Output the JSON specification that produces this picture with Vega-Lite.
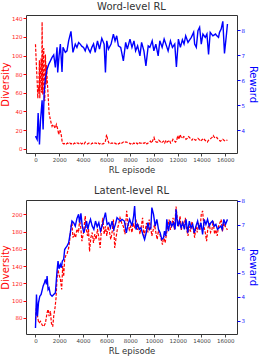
{
"$schema": "https://vega.github.io/schema/vega-lite/v6.json",
"padding": {"left": 0, "top": 1, "right": 2, "bottom": 2},
"config": {
  "view": {"stroke": "#333333", "strokeWidth": 1},
  "font": "DejaVu Sans",
  "axis": {"grid": false, "domain": false, "labelFont": "DejaVu Sans", "titleFont": "DejaVu Sans", "titleFontWeight": "normal", "labelFontSize": 5.5, "tickSize": 3, "labelPadding": 1},
  "axisX": {"labelOverlap": false, "labelFlush": false, "format": "d", "labelColor": "#444444", "tickColor": "#444444", "titleColor": "#333333", "titleFontSize": 8.5, "titlePadding": 3},
  "title": {"font": "DejaVu Sans", "fontWeight": "normal", "fontSize": 10, "color": "#333333", "frame": "group", "offset": 3}
},
"datasets": {
"wd": [{"e":0,"v":112},{"e":84,"v":87},{"e":150,"v":70},{"e":196,"v":54},{"e":250,"v":66},{"e":280,"v":62},{"e":330,"v":95},{"e":364,"v":54},{"e":420,"v":80},{"e":476,"v":97},{"e":520,"v":60},{"e":559,"v":136},{"e":615,"v":58},{"e":660,"v":100},{"e":699,"v":108},{"e":740,"v":60},{"e":783,"v":51},{"e":839,"v":101},{"e":895,"v":69},{"e":940,"v":90},{"e":979,"v":76},{"e":1063,"v":58},{"e":1147,"v":38},{"e":1259,"v":31},{"e":1330,"v":27},{"e":1399,"v":24},{"e":1470,"v":26},{"e":1538,"v":25},{"e":1610,"v":23},{"e":1678,"v":22},{"e":1762,"v":26},{"e":1874,"v":21},{"e":1958,"v":15},{"e":2040,"v":20},{"e":2098,"v":19},{"e":2182,"v":14},{"e":2266,"v":6},{"e":2400,"v":5},{"e":2500,"v":6},{"e":2600,"v":5},{"e":2700,"v":6},{"e":2800,"v":5},{"e":2900,"v":6},{"e":3000,"v":5},{"e":3100,"v":6},{"e":3200,"v":5},{"e":3300,"v":6},{"e":3400,"v":5},{"e":3500,"v":6},{"e":3600,"v":6},{"e":3700,"v":5},{"e":3800,"v":6},{"e":3900,"v":5},{"e":4000,"v":6},{"e":4100,"v":5},{"e":4200,"v":7},{"e":4300,"v":6},{"e":4400,"v":5},{"e":4500,"v":6},{"e":4600,"v":6},{"e":4700,"v":5},{"e":4800,"v":6},{"e":4900,"v":5},{"e":5000,"v":6},{"e":5100,"v":6},{"e":5200,"v":5},{"e":5300,"v":6},{"e":5400,"v":5},{"e":5500,"v":6},{"e":5600,"v":5},{"e":5700,"v":5},{"e":5800,"v":6},{"e":5900,"v":8},{"e":6000,"v":15},{"e":6100,"v":9},{"e":6200,"v":6},{"e":6300,"v":5},{"e":6400,"v":6},{"e":6500,"v":6},{"e":6600,"v":5},{"e":6700,"v":6},{"e":6800,"v":5},{"e":6900,"v":6},{"e":7000,"v":5},{"e":7100,"v":6},{"e":7200,"v":5},{"e":7300,"v":6},{"e":7400,"v":7},{"e":7500,"v":8},{"e":7600,"v":7},{"e":7700,"v":7},{"e":7800,"v":6},{"e":7900,"v":6},{"e":8000,"v":5},{"e":8100,"v":6},{"e":8200,"v":5},{"e":8300,"v":6},{"e":8400,"v":5},{"e":8500,"v":6},{"e":8600,"v":5},{"e":8700,"v":7},{"e":8800,"v":6},{"e":8900,"v":6},{"e":9000,"v":5},{"e":9100,"v":6},{"e":9200,"v":6},{"e":9300,"v":7},{"e":9400,"v":5},{"e":9500,"v":6},{"e":9600,"v":7},{"e":9700,"v":8},{"e":9800,"v":6},{"e":9900,"v":9},{"e":10000,"v":12},{"e":10100,"v":8},{"e":10200,"v":7},{"e":10300,"v":7},{"e":10400,"v":9},{"e":10500,"v":8},{"e":10600,"v":6},{"e":10700,"v":7},{"e":10800,"v":8},{"e":10900,"v":6},{"e":11000,"v":9},{"e":11100,"v":7},{"e":11200,"v":8},{"e":11300,"v":9},{"e":11400,"v":6},{"e":11500,"v":7},{"e":11600,"v":10},{"e":11700,"v":9},{"e":11800,"v":7},{"e":11900,"v":8},{"e":12000,"v":14},{"e":12100,"v":10},{"e":12200,"v":15},{"e":12300,"v":12},{"e":12400,"v":11},{"e":12500,"v":13},{"e":12600,"v":12},{"e":12700,"v":10},{"e":12800,"v":11},{"e":12900,"v":13},{"e":13000,"v":12},{"e":13100,"v":10},{"e":13200,"v":9},{"e":13300,"v":11},{"e":13400,"v":10},{"e":13500,"v":9},{"e":13600,"v":10},{"e":13700,"v":11},{"e":13800,"v":10},{"e":13900,"v":8},{"e":14000,"v":9},{"e":14100,"v":10},{"e":14200,"v":11},{"e":14300,"v":9},{"e":14400,"v":8},{"e":14500,"v":7},{"e":14600,"v":9},{"e":14700,"v":10},{"e":14800,"v":11},{"e":14900,"v":12},{"e":15000,"v":14},{"e":15100,"v":12},{"e":15200,"v":11},{"e":15300,"v":12},{"e":15400,"v":10},{"e":15500,"v":9},{"e":15600,"v":8},{"e":15700,"v":9},{"e":15800,"v":10},{"e":15900,"v":9},{"e":16000,"v":8},{"e":16100,"v":9},{"e":16200,"v":9}],
"wr": [{"e":0,"v":3.77},{"e":140,"v":3.64},{"e":224,"v":4.69},{"e":336,"v":3.44},{"e":420,"v":4.37},{"e":559,"v":5.2},{"e":643,"v":4.04},{"e":727,"v":5.44},{"e":839,"v":6.09},{"e":979,"v":6.44},{"e":1119,"v":6.64},{"e":1259,"v":6.77},{"e":1399,"v":6.91},{"e":1538,"v":7.01},{"e":1678,"v":6.51},{"e":1818,"v":7.31},{"e":1874,"v":6.31},{"e":1986,"v":6.97},{"e":2098,"v":7.44},{"e":2238,"v":6.33},{"e":2322,"v":7.31},{"e":2517,"v":7.11},{"e":2657,"v":7.17},{"e":2797,"v":7.57},{"e":2993,"v":7.95},{"e":3161,"v":7.11},{"e":3357,"v":7.44},{"e":3497,"v":7.31},{"e":3640,"v":7.5},{"e":3776,"v":7.44},{"e":3920,"v":7.35},{"e":4056,"v":7.31},{"e":4196,"v":7.17},{"e":4340,"v":7.4},{"e":4476,"v":7.24},{"e":4615,"v":7.11},{"e":4755,"v":7.31},{"e":4900,"v":7.45},{"e":5035,"v":7.11},{"e":5231,"v":7.57},{"e":5399,"v":7.24},{"e":5594,"v":7.67},{"e":5790,"v":7.44},{"e":5902,"v":6.31},{"e":6014,"v":7.57},{"e":6154,"v":7.24},{"e":6378,"v":7.44},{"e":6573,"v":7.84},{"e":6713,"v":7.57},{"e":6853,"v":7.77},{"e":6993,"v":7.37},{"e":7189,"v":7.31},{"e":7413,"v":6.77},{"e":7608,"v":7.51},{"e":7748,"v":7.24},{"e":7972,"v":7.64},{"e":8140,"v":7.31},{"e":8308,"v":7.57},{"e":8448,"v":7.17},{"e":8615,"v":7.37},{"e":8811,"v":6.97},{"e":8951,"v":7.51},{"e":9147,"v":7.17},{"e":9315,"v":6.57},{"e":9510,"v":7.37},{"e":9650,"v":7.31},{"e":9846,"v":7.57},{"e":9986,"v":7.17},{"e":10154,"v":7.44},{"e":10350,"v":6.97},{"e":10490,"v":7.57},{"e":10685,"v":7.31},{"e":10853,"v":7.64},{"e":11049,"v":7.37},{"e":11189,"v":7.17},{"e":11385,"v":7.57},{"e":11552,"v":7.31},{"e":11748,"v":7.44},{"e":11888,"v":6.53},{"e":12056,"v":7.64},{"e":12224,"v":7.31},{"e":12392,"v":7.61},{"e":12531,"v":7.44},{"e":12671,"v":7.77},{"e":12867,"v":7.51},{"e":13007,"v":7.61},{"e":13147,"v":7.71},{"e":13343,"v":7.91},{"e":13427,"v":7.44},{"e":13566,"v":7.31},{"e":13706,"v":7.97},{"e":13846,"v":8.11},{"e":13986,"v":7.44},{"e":14126,"v":7.84},{"e":14322,"v":7.71},{"e":14462,"v":7.84},{"e":14601,"v":7.03},{"e":14741,"v":7.91},{"e":14965,"v":7.77},{"e":15189,"v":7.84},{"e":15301,"v":7.77},{"e":15441,"v":7.71},{"e":15524,"v":7.91},{"e":15664,"v":8.04},{"e":15804,"v":8.35},{"e":15944,"v":7.07},{"e":16084,"v":7.71},{"e":16196,"v":8.24}],
"ld": [{"e":0,"v":78},{"e":84,"v":94},{"e":168,"v":82},{"e":280,"v":74},{"e":420,"v":76},{"e":559,"v":72},{"e":699,"v":70},{"e":839,"v":74},{"e":979,"v":86},{"e":1063,"v":90},{"e":1147,"v":82},{"e":1259,"v":88},{"e":1343,"v":74},{"e":1455,"v":70},{"e":1538,"v":82},{"e":1650,"v":92},{"e":1734,"v":103},{"e":1818,"v":126},{"e":1902,"v":136},{"e":1986,"v":130},{"e":2098,"v":125},{"e":2210,"v":113},{"e":2294,"v":140},{"e":2378,"v":128},{"e":2462,"v":148},{"e":2545,"v":152},{"e":2657,"v":154},{"e":2797,"v":161},{"e":2881,"v":169},{"e":2993,"v":186},{"e":3077,"v":190},{"e":3161,"v":173},{"e":3273,"v":177},{"e":3385,"v":173},{"e":3497,"v":183},{"e":3636,"v":179},{"e":3720,"v":194},{"e":3832,"v":183},{"e":3916,"v":169},{"e":4056,"v":179},{"e":4196,"v":198},{"e":4280,"v":183},{"e":4392,"v":175},{"e":4476,"v":183},{"e":4559,"v":157},{"e":4671,"v":173},{"e":4783,"v":179},{"e":4895,"v":167},{"e":5007,"v":177},{"e":5119,"v":171},{"e":5231,"v":183},{"e":5343,"v":173},{"e":5455,"v":161},{"e":5566,"v":183},{"e":5678,"v":196},{"e":5790,"v":177},{"e":5902,"v":186},{"e":6014,"v":175},{"e":6126,"v":186},{"e":6238,"v":180},{"e":6350,"v":171},{"e":6462,"v":179},{"e":6573,"v":194},{"e":6685,"v":161},{"e":6797,"v":173},{"e":6909,"v":183},{"e":7021,"v":189},{"e":7133,"v":196},{"e":7273,"v":190},{"e":7413,"v":186},{"e":7552,"v":177},{"e":7692,"v":204},{"e":7804,"v":190},{"e":7916,"v":182},{"e":8028,"v":186},{"e":8140,"v":179},{"e":8252,"v":190},{"e":8364,"v":184},{"e":8476,"v":194},{"e":8587,"v":182},{"e":8699,"v":188},{"e":8811,"v":177},{"e":8923,"v":186},{"e":9035,"v":196},{"e":9147,"v":175},{"e":9259,"v":182},{"e":9371,"v":190},{"e":9483,"v":179},{"e":9594,"v":194},{"e":9706,"v":186},{"e":9818,"v":175},{"e":9930,"v":182},{"e":10042,"v":188},{"e":10154,"v":179},{"e":10266,"v":171},{"e":10378,"v":182},{"e":10490,"v":177},{"e":10601,"v":171},{"e":10713,"v":165},{"e":10825,"v":175},{"e":10937,"v":167},{"e":11049,"v":177},{"e":11161,"v":186},{"e":11273,"v":194},{"e":11385,"v":182},{"e":11497,"v":188},{"e":11608,"v":196},{"e":11720,"v":182},{"e":11860,"v":209},{"e":11972,"v":194},{"e":12084,"v":186},{"e":12196,"v":198},{"e":12308,"v":182},{"e":12420,"v":192},{"e":12531,"v":186},{"e":12643,"v":196},{"e":12755,"v":182},{"e":12867,"v":175},{"e":12979,"v":186},{"e":13091,"v":180},{"e":13203,"v":192},{"e":13315,"v":182},{"e":13427,"v":173},{"e":13538,"v":186},{"e":13650,"v":179},{"e":13762,"v":190},{"e":13874,"v":182},{"e":13986,"v":200},{"e":14098,"v":204},{"e":14210,"v":186},{"e":14322,"v":179},{"e":14434,"v":169},{"e":14545,"v":184},{"e":14657,"v":190},{"e":14769,"v":179},{"e":14881,"v":182},{"e":14993,"v":192},{"e":15105,"v":177},{"e":15217,"v":182},{"e":15329,"v":175},{"e":15441,"v":186},{"e":15552,"v":190},{"e":15664,"v":194},{"e":15776,"v":180},{"e":15888,"v":190},{"e":16000,"v":186},{"e":16196,"v":182}],
"lr": [{"e":0,"v":2.69},{"e":84,"v":4.09},{"e":168,"v":3.18},{"e":252,"v":3.74},{"e":364,"v":4.02},{"e":476,"v":4.09},{"e":643,"v":4.44},{"e":755,"v":4.58},{"e":839,"v":4.72},{"e":923,"v":4.51},{"e":979,"v":4.86},{"e":1063,"v":4.3},{"e":1147,"v":4.37},{"e":1259,"v":4.09},{"e":1399,"v":4.02},{"e":1538,"v":4.09},{"e":1678,"v":4.16},{"e":1818,"v":5.07},{"e":1902,"v":5.49},{"e":1986,"v":5.17},{"e":2098,"v":5.35},{"e":2182,"v":5.21},{"e":2266,"v":5.49},{"e":2378,"v":5.56},{"e":2462,"v":5.97},{"e":2545,"v":6.04},{"e":2657,"v":6.11},{"e":2797,"v":6.25},{"e":2937,"v":6.67},{"e":3077,"v":7.16},{"e":3217,"v":7.09},{"e":3357,"v":6.95},{"e":3497,"v":7.27},{"e":3636,"v":7.44},{"e":3720,"v":7.09},{"e":3832,"v":7.48},{"e":3944,"v":6.95},{"e":4084,"v":6.67},{"e":4224,"v":6.95},{"e":4308,"v":7.16},{"e":4420,"v":6.81},{"e":4503,"v":7.02},{"e":4643,"v":7.23},{"e":4783,"v":6.95},{"e":4923,"v":6.81},{"e":5063,"v":7.16},{"e":5203,"v":6.92},{"e":5343,"v":7.09},{"e":5483,"v":6.74},{"e":5622,"v":6.95},{"e":5762,"v":7.23},{"e":5902,"v":7.51},{"e":6042,"v":7.02},{"e":6182,"v":7.09},{"e":6322,"v":6.88},{"e":6462,"v":7.16},{"e":6601,"v":6.81},{"e":6741,"v":7.02},{"e":6881,"v":7.3},{"e":7021,"v":7.23},{"e":7161,"v":7.16},{"e":7301,"v":7.23},{"e":7497,"v":7.16},{"e":7664,"v":6.67},{"e":7776,"v":6.95},{"e":7944,"v":7.23},{"e":8140,"v":6.95},{"e":8280,"v":7.37},{"e":8364,"v":7.79},{"e":8476,"v":6.81},{"e":8615,"v":7.02},{"e":8755,"v":6.81},{"e":8895,"v":6.88},{"e":9063,"v":6.6},{"e":9203,"v":6.39},{"e":9343,"v":6.67},{"e":9483,"v":7.09},{"e":9622,"v":6.81},{"e":9734,"v":6.88},{"e":9818,"v":7.72},{"e":9958,"v":7.44},{"e":10098,"v":6.95},{"e":10238,"v":7.23},{"e":10378,"v":6.81},{"e":10517,"v":6.67},{"e":10657,"v":6.39},{"e":10797,"v":6.46},{"e":10881,"v":6.74},{"e":10993,"v":6.53},{"e":11077,"v":7.23},{"e":11217,"v":6.74},{"e":11357,"v":7.16},{"e":11497,"v":6.95},{"e":11636,"v":7.09},{"e":11776,"v":6.81},{"e":11860,"v":7.65},{"e":12000,"v":6.95},{"e":12140,"v":7.16},{"e":12280,"v":6.88},{"e":12420,"v":7.09},{"e":12559,"v":6.81},{"e":12699,"v":7.23},{"e":12839,"v":6.67},{"e":12979,"v":7.16},{"e":13119,"v":6.88},{"e":13259,"v":7.02},{"e":13399,"v":6.67},{"e":13538,"v":6.95},{"e":13678,"v":7.16},{"e":13818,"v":6.81},{"e":13958,"v":7.09},{"e":14098,"v":6.6},{"e":14238,"v":7.23},{"e":14378,"v":7.02},{"e":14517,"v":7.23},{"e":14657,"v":6.95},{"e":14797,"v":7.09},{"e":14937,"v":7.16},{"e":15077,"v":6.95},{"e":15217,"v":7.02},{"e":15357,"v":6.81},{"e":15497,"v":6.88},{"e":15636,"v":6.95},{"e":15748,"v":6.81},{"e":15888,"v":7.23},{"e":16028,"v":7.02},{"e":16196,"v":7.23}]
},
"spacing": 10,
"vconcat": [
 {
  "title": {"text": "Word-level RL"},
  "width": 211, "height": 138,
  "resolve": {"scale": {"y": "independent"}},
  "layer": [
   {"data": {"name": "wd"}, "mark": {"type": "line", "color": "#ff0000", "strokeWidth": 1.2, "strokeDash": [3, 1.5], "clip": true},
    "encoding": {
     "x": {"field": "e", "type": "quantitative", "scale": {"domain": [-800, 17000], "nice": false, "zero": false}, "axis": {"values": [0,2000,4000,6000,8000,10000,12000,14000,16000], "format": "d", "labelOverlap": false, "title": "RL episode"}},
     "y": {"field": "v", "type": "quantitative", "scale": {"domain": [-4.7, 143.5], "nice": false, "zero": false}, "axis": {"orient": "left", "values": [0,20,40,60,80,100,120,140], "title": "Diversity", "titleFontSize": 10, "titleColor": "#ff0000", "labelColor": "#ff2020", "tickColor": "#ff0000", "titlePadding": 1}}
    }},
   {"data": {"name": "wr"}, "mark": {"type": "line", "color": "#0000ff", "strokeWidth": 1.4, "clip": true},
    "encoding": {
     "x": {"field": "e", "type": "quantitative", "axis": {"values": [0,2000,4000,6000,8000,10000,12000,14000,16000], "format": "d", "labelOverlap": false, "title": "RL episode"}},
     "y": {"field": "v", "type": "quantitative", "scale": {"domain": [3.1, 8.6], "nice": false, "zero": false}, "axis": {"orient": "right", "values": [4,5,6,7,8], "title": "Reward", "titleFontSize": 10, "titleColor": "#0000ff", "labelColor": "#2020ff", "tickColor": "#0000ff", "titlePadding": 3}}
    }}
  ]
 },
 {
  "title": {"text": "Latent-level RL"},
  "width": 211, "height": 134,
  "resolve": {"scale": {"y": "independent"}},
  "layer": [
   {"data": {"name": "ld"}, "mark": {"type": "line", "color": "#ff0000", "strokeWidth": 1.2, "strokeDash": [3, 1.5], "clip": true},
    "encoding": {
     "x": {"field": "e", "type": "quantitative", "scale": {"domain": [-800, 17000], "nice": false, "zero": false}, "axis": {"values": [0,2000,4000,6000,8000,10000,12000,14000,16000], "format": "d", "labelOverlap": false, "title": "RL episode"}},
     "y": {"field": "v", "type": "quantitative", "scale": {"domain": [61.4, 216.6], "nice": false, "zero": false}, "axis": {"orient": "left", "values": [80,100,120,140,160,180,200], "title": "Diversity", "titleFontSize": 10, "titleColor": "#ff0000", "labelColor": "#ff2020", "tickColor": "#ff0000", "titlePadding": 1}}
    }},
   {"data": {"name": "lr"}, "mark": {"type": "line", "color": "#0000ff", "strokeWidth": 1.4, "clip": true},
    "encoding": {
     "x": {"field": "e", "type": "quantitative", "axis": {"values": [0,2000,4000,6000,8000,10000,12000,14000,16000], "format": "d", "labelOverlap": false, "title": "RL episode"}},
     "y": {"field": "v", "type": "quantitative", "scale": {"domain": [2.44, 8.04], "nice": false, "zero": false}, "axis": {"orient": "right", "values": [3,4,5,6,7,8], "title": "Reward", "titleFontSize": 10, "titleColor": "#0000ff", "labelColor": "#2020ff", "tickColor": "#0000ff", "titlePadding": 3}}
    }}
  ]
 }
]
}
